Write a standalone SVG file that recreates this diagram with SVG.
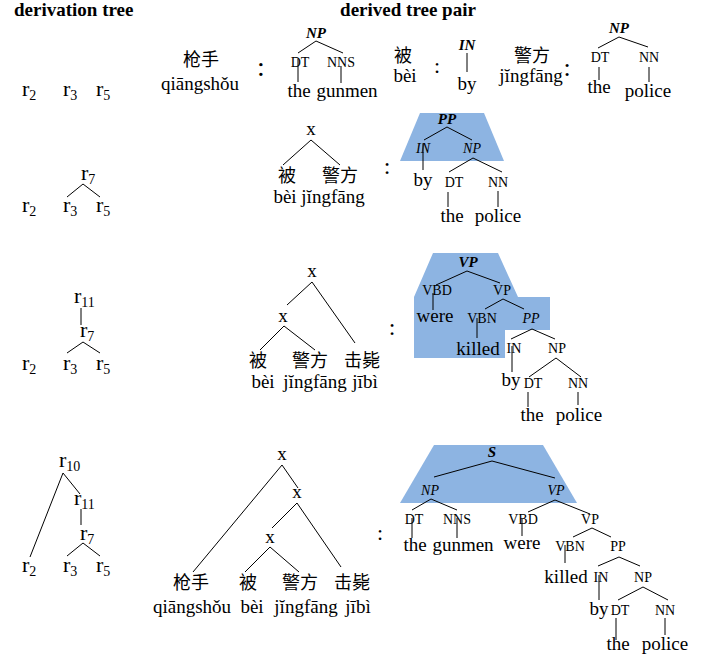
<svg xmlns="http://www.w3.org/2000/svg" width="718" height="659" viewBox="0 0 718 659">
  <style>
    text { font-family: "Liberation Serif", "Times New Roman", serif; fill: #000; }
    .hd { font-size: 19px; font-weight: bold; }
    .w { font-size: 19px; text-anchor: middle; }
    .r { font-size: 22px; }
    .sub { font-size: 14px; }
    .lb { font-size: 14px; text-anchor: middle; }
    .bi { font-size: 15px; font-weight: bold; font-style: italic; text-anchor: middle; }
    .it { font-size: 14px; font-style: italic; text-anchor: middle; }
    .zh { font-family: "Noto Sans CJK SC", "Noto Sans CJK TC", sans-serif; font-size: 18px; text-anchor: middle; }
    .col { text-anchor: middle; }
    .hl { fill: #8db4e2; }
    .edges line { stroke: #000; stroke-width: 1; }
  </style>

  <!-- column headings -->
  <g id="headings">
    <text class="hd" x="14" y="16">derivation tree</text>
    <text class="hd" x="408" y="16" text-anchor="middle">derived tree pair</text>
  </g>

  <!-- highlighted rule fragments -->
  <g id="highlights">
    <polygon class="hl" points="420,113 484,113 504,161 400,161"/>
    <polygon class="hl" points="433,253 498,253 518,297 550,297 550,330 505,330 505,358 414,358 414,297"/>
    <polygon class="hl" points="434,445 543,445 577,503 400,503"/>
  </g>

  <g id="connectors" class="edges">
    <!-- derivation trees -->
    <line x1="83" y1="184" x2="67" y2="197"/>
    <line x1="83" y1="184" x2="100" y2="197"/>
    <line x1="81" y1="308" x2="81" y2="325"/>
    <line x1="83" y1="342" x2="67" y2="353"/>
    <line x1="83" y1="342" x2="100" y2="353"/>
    <line x1="63" y1="473" x2="30" y2="557"/>
    <line x1="63" y1="473" x2="80" y2="494"/>
    <line x1="81" y1="509" x2="81" y2="525"/>
    <line x1="83" y1="543" x2="67" y2="556"/>
    <line x1="83" y1="543" x2="100" y2="556"/>

    <!-- row 1 English trees -->
    <line x1="316" y1="41" x2="298" y2="53"/>
    <line x1="316" y1="41" x2="343" y2="53"/>
    <line x1="298" y1="59" x2="298" y2="82"/>
    <line x1="341" y1="66" x2="341" y2="83"/>
    <line x1="467" y1="53" x2="467" y2="72"/>
    <line x1="619" y1="37" x2="598" y2="48"/>
    <line x1="619" y1="37" x2="648" y2="47"/>
    <line x1="599" y1="67" x2="599" y2="80"/>
    <line x1="649" y1="67" x2="649" y2="82"/>

    <!-- row 2 -->
    <line x1="311" y1="140" x2="283" y2="165"/>
    <line x1="311" y1="140" x2="340" y2="165"/>
    <line x1="447" y1="127" x2="424" y2="140"/>
    <line x1="447" y1="127" x2="472" y2="140"/>
    <line x1="423" y1="144" x2="423" y2="170"/>
    <line x1="473" y1="158" x2="449" y2="172"/>
    <line x1="473" y1="158" x2="502" y2="172"/>
    <line x1="448" y1="192" x2="448" y2="207"/>
    <line x1="498" y1="191" x2="498" y2="207"/>

    <!-- row 3 -->
    <line x1="312" y1="282" x2="287" y2="305"/>
    <line x1="312" y1="282" x2="355" y2="343"/>
    <line x1="284" y1="326" x2="260" y2="350"/>
    <line x1="284" y1="326" x2="315" y2="350"/>
    <line x1="467" y1="271" x2="436" y2="285"/>
    <line x1="467" y1="271" x2="500" y2="283"/>
    <line x1="433" y1="293" x2="433" y2="310"/>
    <line x1="503" y1="299" x2="485" y2="309"/>
    <line x1="503" y1="299" x2="524" y2="309"/>
    <line x1="477" y1="318" x2="477" y2="338"/>
    <line x1="532" y1="329" x2="511" y2="339"/>
    <line x1="532" y1="329" x2="555" y2="339"/>
    <line x1="512" y1="346" x2="512" y2="372"/>
    <line x1="556" y1="358" x2="529" y2="377"/>
    <line x1="556" y1="358" x2="581" y2="377"/>
    <line x1="528" y1="392" x2="528" y2="407"/>
    <line x1="578" y1="392" x2="578" y2="405"/>

    <!-- row 4 -->
    <line x1="282" y1="465" x2="193" y2="572"/>
    <line x1="282" y1="465" x2="298" y2="488"/>
    <line x1="297" y1="503" x2="272" y2="528"/>
    <line x1="297" y1="503" x2="341" y2="567"/>
    <line x1="270" y1="547" x2="245" y2="572"/>
    <line x1="270" y1="547" x2="299" y2="572"/>
    <line x1="492" y1="461" x2="434" y2="477"/>
    <line x1="492" y1="461" x2="555" y2="478"/>
    <line x1="431" y1="499" x2="412" y2="510"/>
    <line x1="431" y1="499" x2="457" y2="510"/>
    <line x1="412" y1="518" x2="412" y2="538"/>
    <line x1="457" y1="518" x2="457" y2="538"/>
    <line x1="555" y1="500" x2="528" y2="512"/>
    <line x1="555" y1="500" x2="590" y2="514"/>
    <line x1="522" y1="518" x2="522" y2="536"/>
    <line x1="592" y1="528" x2="573" y2="537"/>
    <line x1="592" y1="528" x2="611" y2="537"/>
    <line x1="565" y1="545" x2="565" y2="563"/>
    <line x1="619" y1="557" x2="598" y2="566"/>
    <line x1="619" y1="557" x2="640" y2="566"/>
    <line x1="599" y1="575" x2="599" y2="600"/>
    <line x1="643" y1="587" x2="618" y2="600"/>
    <line x1="643" y1="587" x2="668" y2="600"/>
    <line x1="616" y1="618" x2="616" y2="640"/>
    <line x1="665" y1="618" x2="665" y2="635"/>
  </g>

  <!-- derivation trees -->
  <g id="deriv1">
    <text class="r" x="22" y="96">r<tspan class="sub" dy="4">2</tspan></text>
    <text class="r" x="63" y="96">r<tspan class="sub" dy="4">3</tspan></text>
    <text class="r" x="96" y="96">r<tspan class="sub" dy="4">5</tspan></text>
  </g>
  <g id="deriv2">
    <text class="r" x="81" y="180">r<tspan class="sub" dy="4">7</tspan></text>
    <text class="r" x="22" y="212">r<tspan class="sub" dy="4">2</tspan></text>
    <text class="r" x="63" y="212">r<tspan class="sub" dy="4">3</tspan></text>
    <text class="r" x="96" y="212">r<tspan class="sub" dy="4">5</tspan></text>
  </g>
  <g id="deriv3">
    <text class="r" x="74" y="303">r<tspan class="sub" dy="4">11</tspan></text>
    <text class="r" x="80" y="337">r<tspan class="sub" dy="4">7</tspan></text>
    <text class="r" x="22" y="370">r<tspan class="sub" dy="4">2</tspan></text>
    <text class="r" x="63" y="370">r<tspan class="sub" dy="4">3</tspan></text>
    <text class="r" x="96" y="370">r<tspan class="sub" dy="4">5</tspan></text>
  </g>
  <g id="deriv4">
    <text class="r" x="59" y="467">r<tspan class="sub" dy="4">10</tspan></text>
    <text class="r" x="74" y="505">r<tspan class="sub" dy="4">11</tspan></text>
    <text class="r" x="80" y="540">r<tspan class="sub" dy="4">7</tspan></text>
    <text class="r" x="22" y="572">r<tspan class="sub" dy="4">2</tspan></text>
    <text class="r" x="63" y="572">r<tspan class="sub" dy="4">3</tspan></text>
    <text class="r" x="96" y="572">r<tspan class="sub" dy="4">5</tspan></text>
  </g>

  <!-- row 1: lexical rule pairs -->
  <g id="pair1">
    <text class="zh" x="201" y="66">枪手</text>
    <text class="w" x="200" y="90">qiāngshǒu</text>
    <text class="col" x="261" y="76" font-size="28">:</text>
    <text class="bi" x="316" y="38">NP</text>
    <text class="lb" x="300" y="67">DT</text>
    <text class="lb" x="341" y="67">NNS</text>
    <text class="w" x="299" y="97">the</text>
    <text class="w" x="347" y="97">gunmen</text>

    <text class="zh" x="403" y="62">被</text>
    <text class="w" x="405" y="82">bèi</text>
    <text class="col" x="437" y="73" font-size="22">:</text>
    <text class="bi" x="467" y="50">IN</text>
    <text class="w" x="467" y="90">by</text>

    <text class="zh" x="532" y="62">警方</text>
    <text class="w" x="531" y="82">jĭngfāng</text>
    <text class="col" x="567" y="76" font-size="26">:</text>
    <text class="bi" x="619" y="33">NP</text>
    <text class="lb" x="600" y="62">DT</text>
    <text class="lb" x="649" y="62">NN</text>
    <text class="w" x="599" y="93">the</text>
    <text class="w" x="648" y="97">police</text>
  </g>

  <!-- row 2 -->
  <g id="pair2">
    <text class="w" x="311" y="135">x</text>
    <text class="zh" x="287" y="182">被</text>
    <text class="zh" x="340" y="182">警方</text>
    <text class="w" x="285" y="203">bèi</text>
    <text class="w" x="333" y="203">jĭngfāng</text>
    <text class="col" x="387" y="174" font-size="24">:</text>
    <text class="bi" x="447" y="124">PP</text>
    <text class="it" x="423" y="153">IN</text>
    <text class="it" x="472" y="153">NP</text>
    <text class="w" x="423" y="186">by</text>
    <text class="lb" x="454" y="187">DT</text>
    <text class="lb" x="498" y="187">NN</text>
    <text class="w" x="452" y="222">the</text>
    <text class="w" x="498" y="222">police</text>
  </g>

  <!-- row 3 -->
  <g id="pair3">
    <text class="w" x="312" y="277">x</text>
    <text class="w" x="283" y="322">x</text>
    <text class="zh" x="258" y="367">被</text>
    <text class="zh" x="310" y="367">警方</text>
    <text class="zh" x="362" y="367">击毙</text>
    <text class="w" x="263" y="388">bèi</text>
    <text class="w" x="315" y="388">jĭngfāng</text>
    <text class="w" x="365" y="388">jībì</text>
    <text class="col" x="392" y="335" font-size="24">:</text>
    <text class="bi" x="468" y="267">VP</text>
    <text class="lb" x="437" y="295">VBD</text>
    <text class="lb" x="502" y="295">VP</text>
    <text class="w" x="435" y="322">were</text>
    <text class="lb" x="482" y="323">VBN</text>
    <text class="it" x="531" y="323">PP</text>
    <text class="w" x="478" y="355">killed</text>
    <text class="lb" x="514" y="353">IN</text>
    <text class="lb" x="557" y="353">NP</text>
    <text class="w" x="511" y="386">by</text>
    <text class="lb" x="533" y="388">DT</text>
    <text class="lb" x="578" y="388">NN</text>
    <text class="w" x="532" y="421">the</text>
    <text class="w" x="579" y="421">police</text>
  </g>

  <!-- row 4 -->
  <g id="pair4">
    <text class="w" x="282" y="460">x</text>
    <text class="w" x="297" y="498">x</text>
    <text class="w" x="270" y="543">x</text>
    <text class="zh" x="191" y="589">枪手</text>
    <text class="zh" x="248" y="589">被</text>
    <text class="zh" x="300" y="589">警方</text>
    <text class="zh" x="352" y="589">击毙</text>
    <text class="w" x="192" y="613">qiāngshǒu</text>
    <text class="w" x="252" y="613">bèi</text>
    <text class="w" x="306" y="613">jĭngfāng</text>
    <text class="w" x="358" y="613">jībì</text>
    <text class="col" x="380" y="540" font-size="22">:</text>
    <text class="bi" x="492" y="457">S</text>
    <text class="it" x="430" y="495">NP</text>
    <text class="it" x="556" y="495">VP</text>
    <text class="lb" x="414" y="524">DT</text>
    <text class="lb" x="457" y="524">NNS</text>
    <text class="w" x="415" y="551">the</text>
    <text class="w" x="463" y="551">gunmen</text>
    <text class="lb" x="523" y="524">VBD</text>
    <text class="lb" x="590" y="524">VP</text>
    <text class="w" x="522" y="549">were</text>
    <text class="lb" x="570" y="551">VBN</text>
    <text class="lb" x="618" y="551">PP</text>
    <text class="w" x="566" y="583">killed</text>
    <text class="lb" x="601" y="582">IN</text>
    <text class="lb" x="643" y="582">NP</text>
    <text class="w" x="599" y="615">by</text>
    <text class="lb" x="620" y="615">DT</text>
    <text class="lb" x="665" y="615">NN</text>
    <text class="w" x="618" y="650">the</text>
    <text class="w" x="665" y="650">police</text>
  </g>
</svg>
